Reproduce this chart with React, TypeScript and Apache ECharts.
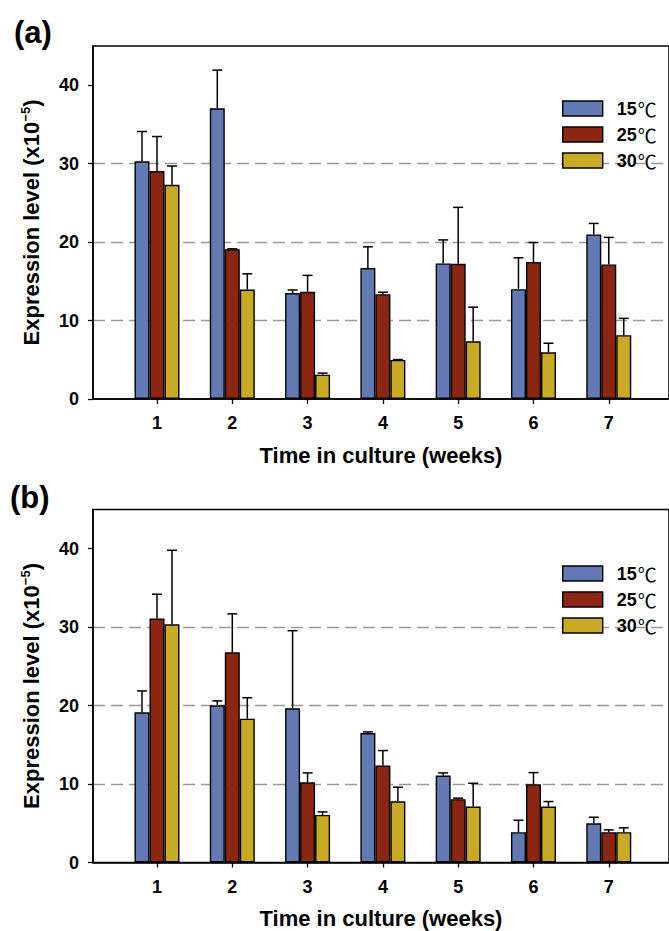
import React, { useEffect, useRef } from 'react';
import * as echarts from 'echarts';

const weeks = [1, 2, 3, 4, 5, 6, 7];
const seriesNames = ['15℃', '25℃', '30℃'];
const yTicks = [0, 10, 20, 30, 40];

// Panel (a) means and upper error (SD)
const aMean15 = [30.3, 37.06, 13.5, 16.7, 17.28, 14.0, 20.98];
const aMean25 = [29.06, 19.1, 13.66, 13.36, 17.23, 17.45, 17.15];
const aMean30 = [27.3, 13.96, 3.1, 4.98, 7.36, 5.96, 8.13];
const aErr15 = [3.8, 4.87, 0.4, 2.7, 3.0, 4.0, 1.4];
const aErr25 = [4.4, 0.05, 2.1, 0.25, 7.2, 2.5, 3.45];
const aErr30 = [2.4, 2.0, 0.2, 0.05, 4.35, 1.15, 2.15];

// Panel (b)
const bMean15 = [19.15, 20.04, 19.66, 16.5, 11.08, 3.86, 5.0];
const bMean25 = [31.1, 26.8, 10.23, 12.36, 8.07, 9.98, 3.86];
const bMean30 = [30.36, 18.34, 6.07, 7.8, 7.13, 7.13, 3.86];
const bErr15 = [2.72, 0.56, 9.89, 0.15, 0.34, 1.53, 0.77];
const bErr25 = [3.1, 4.9, 1.19, 1.91, 0.13, 1.48, 0.3];
const bErr30 = [9.44, 2.66, 0.38, 1.8, 2.97, 0.64, 0.56];

const panels = [
  { means: [aMean15, aMean25, aMean30], errs: [aErr15, aErr25, aErr30] },
  { means: [bMean15, bMean25, bMean30], errs: [bErr15, bErr25, bErr30] },
];

const colors = ['#6379b3', '#8a2612', '#c8aa24'];
const FONT = 'Liberation Sans';
const BAR_W = 15;
const offsets = [-BAR_W, 0, BAR_W];

export default function App() {
  const ref = useRef<HTMLDivElement>(null);
  useEffect(() => {
    if (!ref.current) return;
    const chart = echarts.init(ref.current, undefined, { renderer: 'svg' });
    const gridTops = [46, 509.5];
    const grids = gridTops.map((t) => ({
      left: 93,
      top: t,
      width: 579,
      height: 353,
      show: true,
      borderColor: '#000',
      borderWidth: 1.5,
      backgroundColor: 'transparent',
    }));
    const xAxes = gridTops.map((_, i) => ({
      type: 'value',
      gridIndex: i,
      min: 0.15,
      max: 7.8,
      axisLine: { show: true, onZero: false, lineStyle: { color: '#000', width: 1.5 } },
      axisTick: { show: true, customValues: weeks, length: 5, lineStyle: { color: '#000', width: 1.3 } },
      axisLabel: { customValues: weeks, margin: 15, fontSize: 18, fontWeight: 'bold', color: '#000', fontFamily: FONT },
      splitLine: { show: false },
      name: 'Time in culture (weeks)',
      nameLocation: 'middle',
      nameGap: 45,
      nameTextStyle: { fontSize: 22, fontWeight: 'bold', color: '#000', fontFamily: FONT },
    }));
    const yAxes = gridTops.map((_, i) => ({
      type: 'value',
      gridIndex: i,
      min: 0,
      max: 45,
      interval: 10,
      axisLine: { show: true, lineStyle: { color: '#000', width: 1.5 } },
      axisTick: { show: true, customValues: yTicks, length: 5, lineStyle: { color: '#000', width: 1.3 } },
      axisLabel: { customValues: yTicks, margin: 14, fontSize: 18, fontWeight: 'bold', color: '#000', fontFamily: FONT },
      splitLine: {
        show: true,
        showMinLine: false,
        showMaxLine: false,
        lineStyle: { type: [12, 6], color: '#999', width: 1.3 },
      },
      name: '{a|Expression level (x10}{s|−5}{a|)}',
      nameLocation: 'middle',
      nameGap: 50,
      nameRotate: 90,
      nameTextStyle: {
        rich: {
          a: { fontSize: 22, fontWeight: 'bold', color: '#000', fontFamily: FONT, lineHeight: 24 },
          s: { fontSize: 13, fontWeight: 'bold', color: '#000', fontFamily: FONT, verticalAlign: 'top', lineHeight: 24 },
        },
      },
    }));
    const series: any[] = [];
    panels.forEach((p, pi) => {
      p.means.forEach((m, k) => {
        series.push({
          type: 'bar',
          name: seriesNames[k],
          xAxisIndex: pi,
          yAxisIndex: pi,
          barWidth: BAR_W,
          barGap: '0%',
          data: weeks.map((w, j) => [w, m[j]]),
          itemStyle: { color: colors[k], borderColor: '#000', borderWidth: 1.4 },
        });
      });
      p.means.forEach((m, k) => {
        const e = p.errs[k];
        series.push({
          type: 'custom',
          xAxisIndex: pi,
          yAxisIndex: pi,
          z: 5,
          silent: true,
          encode: { x: 0, y: 1 },
          data: weeks.map((w, j) => [w, m[j], e[j]]),
          renderItem: (params: any, api: any) => {
            const x = api.value(0);
            const mv = api.value(1);
            const sv = api.value(2);
            const base = api.coord([x, mv]);
            const top = api.coord([x, mv + sv]);
            const cx = base[0] + offsets[k];
            const st = { stroke: '#000', lineWidth: 1.5 };
            return {
              type: 'group',
              children: [
                { type: 'line', shape: { x1: cx, y1: base[1], x2: cx, y2: top[1] }, style: st },
                { type: 'line', shape: { x1: cx - 5, y1: top[1], x2: cx + 5, y2: top[1] }, style: st },
              ],
            };
          },
        });
      });
    });
    const legendBase = {
      data: seriesNames,
      orient: 'vertical',
      left: 557,
      itemWidth: 40,
      itemHeight: 15,
      itemGap: 7,
      icon: 'rect',
      selectedMode: false,
      itemStyle: { borderColor: '#000', borderWidth: 1.4 },
      formatter: (name: string) => `{b|${name.replace('℃', '')}}{c|℃}`,
      textStyle: {
        rich: {
          b: { fontSize: 18, fontWeight: 'bold', color: '#000', fontFamily: FONT, lineHeight: 15, padding: [0, 1, 0, 9] },
          c: { fontSize: 19, fontWeight: 'normal', color: '#000', fontFamily: 'Noto Sans CJK KR', lineHeight: 15 },
        },
      },
    };
    chart.setOption({
      animation: false,
      backgroundColor: '#fff',
      grid: grids,
      xAxis: xAxes,
      yAxis: yAxes,
      legend: [
        { ...legendBase, top: 94 },
        { ...legendBase, top: 559 },
      ],
      graphic: [
        { type: 'text', x: 14, y: 32.5, style: { text: '(a)', font: `bold 31px "${FONT}"`, fill: '#000', textVerticalAlign: 'middle' } },
        { type: 'text', x: 10, y: 497.5, style: { text: '(b)', font: `bold 31px "${FONT}"`, fill: '#000', textVerticalAlign: 'middle' } },
      ],
      series,
    });
    return () => chart.dispose();
  }, []);
  return <div ref={ref} style={{ position: 'absolute', left: 0, top: 0, width: 669, height: 931 }} />;
}
